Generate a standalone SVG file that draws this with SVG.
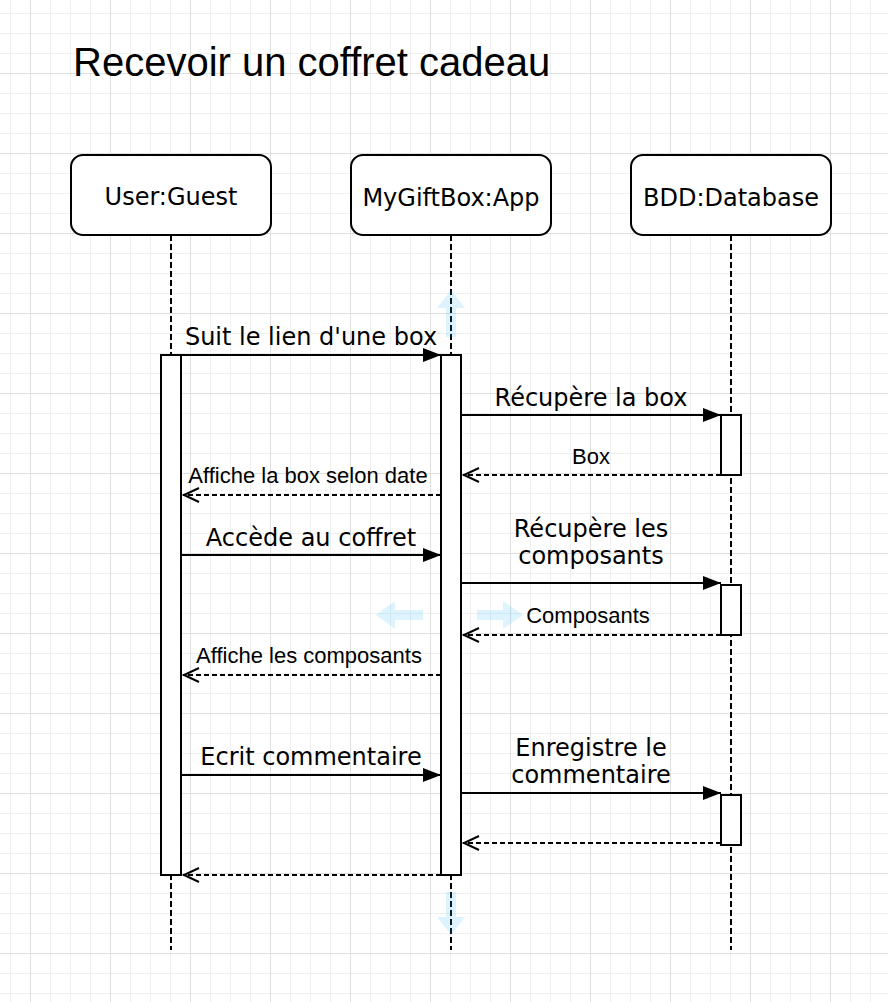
<svg xmlns="http://www.w3.org/2000/svg" width="888" height="1002" viewBox="0 0 888 1002">
  <style>
    .hdr { fill: #ffffff; stroke: #000000; stroke-width: 2; }
    .bar { fill: #ffffff; stroke: #000000; stroke-width: 2; }
    .life { stroke: #000000; stroke-width: 2; stroke-dasharray: 6 3; fill: none; }
    .msg { stroke: #000000; stroke-width: 2; fill: none; }
    .ret { stroke: #000000; stroke-width: 2; fill: none; stroke-dasharray: 5 3; }
    .hint { fill: #29b6f2; fill-opacity: 0.16; stroke: none; }
    .t-v { font-family: "DejaVu Sans", Verdana, sans-serif; font-size: 24px; fill: #000000; text-anchor: middle; }
    .t-a { font-family: "Liberation Sans", Arial, Helvetica, sans-serif; font-size: 22px; fill: #000000; text-anchor: middle; }
    .title { font-family: "Liberation Sans", Arial, Helvetica, sans-serif; font-size: 40px; fill: #000000; }
  </style>
  <defs>
    <pattern id="grid" patternUnits="userSpaceOnUse" x="30" y="73" width="80" height="80">
      <rect width="80" height="80" fill="#ffffff"/>
      <path d="M20.5 0V80M40.5 0V80M60.5 0V80M0 20.5H80M0 40.5H80M0 60.5H80" stroke="#f0f0f0" stroke-width="1" fill="none"/>
      <path d="M0.5 0V80M0 0.5H80" stroke="#e0e0e0" stroke-width="1" fill="none"/>
    </pattern>
    <marker id="block" markerUnits="userSpaceOnUse" markerWidth="20" markerHeight="16" refX="18" refY="8" orient="auto">
      <path d="M0 1L18 8L0 15Z" fill="#000000" stroke="none"/>
    </marker>
    <marker id="open" markerUnits="userSpaceOnUse" markerWidth="20" markerHeight="18" refX="17" refY="9" orient="auto">
      <path d="M1 2L16 9L1 16" fill="none" stroke="#000000" stroke-width="2" stroke-dasharray="none"/>
    </marker>
  </defs>

  <rect width="888" height="1002" fill="url(#grid)"/>

  <text class="title" x="73" y="76">Recevoir un coffret cadeau</text>

  <g id="user-guest">
    <line class="life" x1="171" y1="235" x2="171" y2="950"/>
    <rect class="hdr" x="71" y="155" width="200" height="80" rx="12" ry="12"/>
    <text class="t-v" x="171" y="205">User:Guest</text>
  </g>
  <g id="mygiftbox-app">
    <line class="life" x1="451" y1="235" x2="451" y2="950"/>
    <rect class="hdr" x="351" y="155" width="200" height="80" rx="12" ry="12"/>
    <text class="t-v" x="451" y="206">MyGiftBox:App</text>
  </g>
  <g id="bdd-database">
    <line class="life" x1="731" y1="235" x2="731" y2="950"/>
    <rect class="hdr" x="631" y="155" width="200" height="80" rx="12" ry="12"/>
    <text class="t-v" x="731" y="206">BDD:Database</text>
  </g>

  <g id="hover-hints">
    <path class="hint" d="M451 290L465 308H456V337H446V308H437Z"/>
    <path class="hint" d="M451 935L465 917H456V892H446V917H437Z"/>
    <path class="hint" d="M376 615L395 601V610H423V620H395V629Z"/>
    <path class="hint" d="M523 615L503 601V610H477V620H503V629Z"/>
  </g>

  <g id="activation-user">
    <rect class="bar" x="161" y="355" width="20" height="520"/>
  </g>
  <g id="activation-app">
    <rect class="bar" x="441" y="355" width="20" height="520"/>
  </g>
  <g id="activation-db-1">
    <rect class="bar" x="721" y="415" width="20" height="60"/>
  </g>
  <g id="activation-db-2">
    <rect class="bar" x="721" y="585" width="20" height="50"/>
  </g>
  <g id="activation-db-3">
    <rect class="bar" x="721" y="795" width="20" height="50"/>
  </g>

  <g id="connectors">
    <line class="msg" x1="181" y1="355" x2="441" y2="355" marker-end="url(#block)"/>
    <line class="msg" x1="461" y1="415" x2="721" y2="415" marker-end="url(#block)"/>
    <line class="ret" x1="721" y1="475" x2="463" y2="475" marker-end="url(#open)"/>
    <line class="ret" x1="441" y1="495" x2="183" y2="495" marker-end="url(#open)"/>
    <line class="msg" x1="181" y1="555" x2="441" y2="555" marker-end="url(#block)"/>
    <line class="msg" x1="461" y1="583" x2="721" y2="583" marker-end="url(#block)"/>
    <line class="ret" x1="721" y1="635" x2="463" y2="635" marker-end="url(#open)"/>
    <line class="ret" x1="441" y1="675" x2="183" y2="675" marker-end="url(#open)"/>
    <line class="msg" x1="181" y1="775" x2="441" y2="775" marker-end="url(#block)"/>
    <line class="msg" x1="461" y1="793" x2="721" y2="793" marker-end="url(#block)"/>
    <line class="ret" x1="721" y1="843" x2="463" y2="843" marker-end="url(#open)"/>
    <line class="ret" x1="441" y1="875" x2="183" y2="875" marker-end="url(#open)"/>
  </g>

  <g id="labels">
    <text class="t-v" x="311" y="345">Suit le lien d'une box</text>
    <text class="t-v" x="591" y="406">Récupère la box</text>
    <text class="t-a" x="591" y="464">Box</text>
    <text class="t-a" x="308" y="483">Affiche la box selon date</text>
    <text class="t-v" x="311" y="546">Accède au coffret</text>
    <text class="t-v" x="591" y="537">Récupère les</text>
    <text class="t-v" x="591" y="564">composants</text>
    <text class="t-a" x="588" y="623">Composants</text>
    <text class="t-a" x="309" y="663">Affiche les composants</text>
    <text class="t-v" x="311" y="765">Ecrit commentaire</text>
    <text class="t-v" x="591" y="756">Enregistre le</text>
    <text class="t-v" x="591" y="783">commentaire</text>
  </g>
</svg>
